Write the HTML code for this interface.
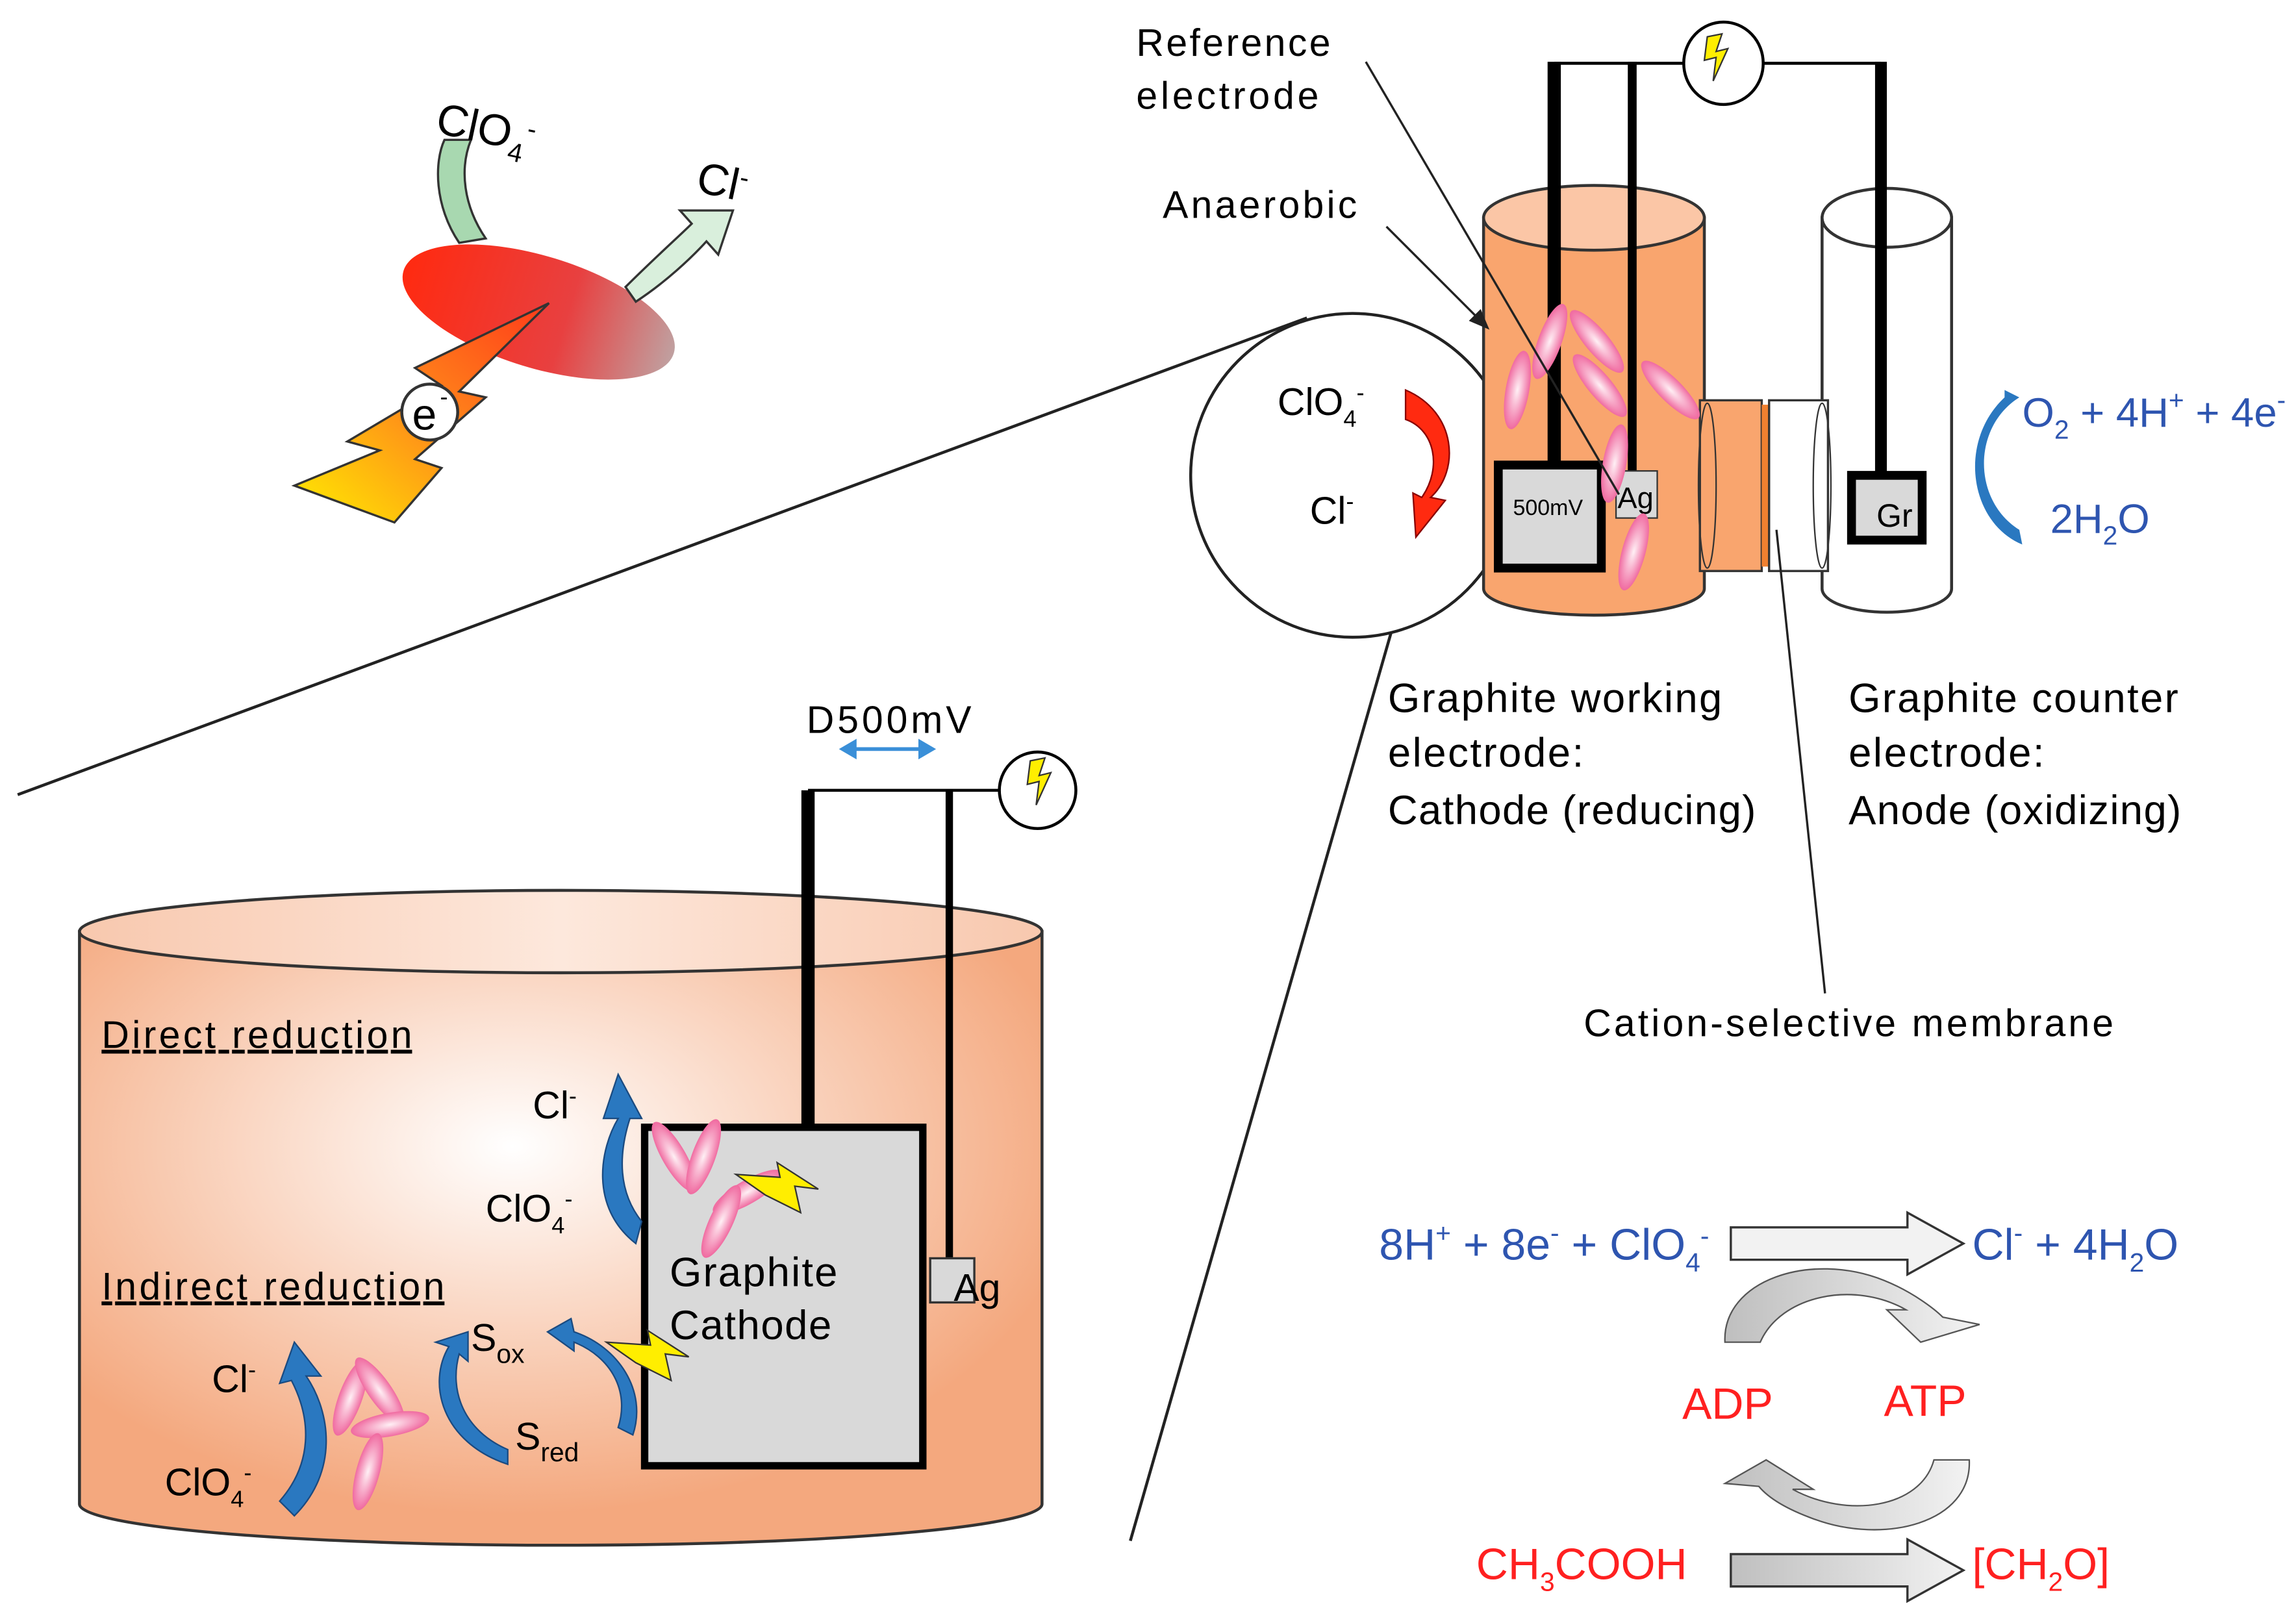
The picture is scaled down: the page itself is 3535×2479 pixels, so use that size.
<!DOCTYPE html>
<html><head><meta charset="utf-8"><style>
html,body{margin:0;padding:0;background:#fff}
svg{display:block}
text{font-family:"Liberation Sans","DejaVu Sans",sans-serif}
</style></head><body>
<svg width="3535" height="2479" viewBox="0 0 1560 1094" preserveAspectRatio="none" xmlns="http://www.w3.org/2000/svg">
<defs>
<radialGradient id="tank" cx="0.45" cy="0.35" r="0.6">
<stop offset="0" stop-color="#ffffff"/><stop offset="1" stop-color="#f4a87e"/></radialGradient>
<linearGradient id="tanktop" x1="0" x2="1"><stop offset="0" stop-color="#f8c8ae"/><stop offset="0.5" stop-color="#fde8dc"/><stop offset="1" stop-color="#f8c8ae"/></linearGradient>
<linearGradient id="bolt" x1="0" y1="1" x2="1" y2="0"><stop offset="0" stop-color="#ffee00"/><stop offset="0.5" stop-color="#ff8a1a"/><stop offset="1" stop-color="#ff3a1a"/></linearGradient>
<linearGradient id="blob" x1="0" x2="1"><stop offset="0" stop-color="#ff2a10"/><stop offset="0.6" stop-color="#e84040"/><stop offset="1" stop-color="#c0a0a0"/></linearGradient>
<radialGradient id="pink"><stop offset="0" stop-color="#fff0f5"/><stop offset="1" stop-color="#f06aa0"/></radialGradient>
<linearGradient id="grey" x1="0" x2="1"><stop offset="0" stop-color="#bfbfbf"/><stop offset="1" stop-color="#f2f2f2"/></linearGradient>
<g id="b"><ellipse rx="8" ry="27" fill="url(#pink)"/></g>
<g id="ly"><polygon points="0,0 10,-2 6,10 14,8 4,30 6,14 -2,16" fill="#ffee00" stroke="#333" stroke-width="1"/></g>
</defs>

<path d="M312,165 C295,140 295,110 302,95 L320,95 C312,115 315,140 330,162 Z" fill="#a8d8b0" stroke="#333" stroke-width="1.5"/>
<ellipse cx="366" cy="212" rx="96" ry="38" transform="rotate(17 366 212)" fill="url(#blob)"/>
<path d="M425,195 C445,175 462,160 470,152 L462,143 L498,143 L488,173 L480,164 C470,175 452,192 432,205 Z" fill="#d9efdc" stroke="#333" stroke-width="1.5"/>
<polygon points="373,206 282,250 300,262 236,300 258,306 200,330 268,355 300,318 282,312 330,270 312,266" fill="url(#bolt)" stroke="#333" stroke-width="1.5"/>
<circle cx="292" cy="280" r="19" fill="#fff" stroke="#333" stroke-width="2"/>
<text x="280" y="292" font-size="30">e</text><text x="299" y="275" font-size="16">-</text>
<text x="295" y="90" font-size="30" transform="rotate(12 295 90)">ClO<tspan font-size="18" dy="8">4</tspan><tspan font-size="18" dy="-18">-</tspan></text>
<text x="472" y="130" font-size="30" transform="rotate(12 472 130)">Cl<tspan font-size="18" dy="-10">-</tspan></text>

<line x1="12" y1="540" x2="888" y2="216" stroke="#222" stroke-width="2"/>
<line x1="768" y1="1047" x2="948" y2="420" stroke="#222" stroke-width="2"/>

<path d="M54,633 L54,1022 A327,28 0 0 0 708,1022 L708,633 Z" fill="url(#tank)" stroke="#333" stroke-width="2"/>
<ellipse cx="381" cy="633" rx="327" ry="28" fill="url(#tanktop)" stroke="#333" stroke-width="2"/>
<line x1="549" y1="537" x2="549" y2="766" stroke="#000" stroke-width="9"/>
<line x1="645" y1="537" x2="645" y2="855" stroke="#000" stroke-width="5"/>
<line x1="549" y1="537" x2="680" y2="537" stroke="#000" stroke-width="2"/>
<circle cx="705" cy="537" r="26" fill="#fff" stroke="#000" stroke-width="2"/>
<use href="#ly" x="700" y="517"/>
<text x="548" y="498" font-size="26" textLength="112">D500mV</text>
<path d="M574,509 L632,509" stroke="#3a8fd8" stroke-width="2.5"/>
<polygon points="570,509 582,502 582,516" fill="#3a8fd8"/><polygon points="636,509 624,502 624,516" fill="#3a8fd8"/>
<rect x="438" y="766" width="189" height="230" fill="#d9d9d9" stroke="#000" stroke-width="5"/>
<rect x="632" y="855" width="30" height="30" fill="#d9d9d9" stroke="#333" stroke-width="1.5"/>
<text x="648" y="884" font-size="26">Ag</text>
<text x="455" y="874" font-size="28" textLength="114">Graphite</text>
<text x="455" y="910" font-size="28" textLength="110">Cathode</text>
<text x="69" y="712" font-size="26" text-decoration="underline" textLength="211">Direct reduction</text>
<text x="69" y="883" font-size="26" text-decoration="underline" textLength="233">Indirect reduction</text>
<g fill="#2a78c0" stroke="#1a4a80" stroke-width="1">
<path d="M432,845 C400,820 408,780 420,760 L410,760 L420,730 L436,760 L428,760 C420,785 420,810 436,830 Z"/>
<path d="M200,1030 C230,1000 225,960 208,935 L218,935 L200,912 L190,940 L198,938 C212,965 212,995 190,1020 Z"/>
<path d="M345,995 C300,980 290,940 305,915 L296,912 L318,905 L318,925 L312,920 C305,945 315,972 345,985 Z"/>
<path d="M430,975 C440,945 420,915 390,905 L388,896 L372,905 L390,918 L390,912 C415,922 428,945 420,970 Z"/>
</g>
<text x="362" y="760" font-size="26">Cl<tspan font-size="16" dy="-10">-</tspan></text>
<text x="330" y="830" font-size="26">ClO<tspan font-size="16" dy="8">4</tspan><tspan font-size="16" dy="-18">-</tspan></text>
<text x="144" y="946" font-size="26">Cl<tspan font-size="16" dy="-10">-</tspan></text>
<text x="112" y="1016" font-size="26">ClO<tspan font-size="16" dy="8">4</tspan><tspan font-size="16" dy="-18">-</tspan></text>
<text x="320" y="918" font-size="26">S<tspan font-size="18" dy="8">ox</tspan></text>
<text x="350" y="985" font-size="26">S<tspan font-size="18" dy="8">red</tspan></text>
<use href="#b" transform="translate(458,786) rotate(-30)"/><use href="#b" transform="translate(478,786) rotate(20)"/>
<use href="#b" transform="translate(508,810) rotate(60)"/><use href="#b" transform="translate(490,830) rotate(25)"/>
<use href="#b" transform="translate(238,950) rotate(20)"/><use href="#b" transform="translate(258,945) rotate(-35)"/>
<use href="#b" transform="translate(265,968) rotate(80)"/><use href="#b" transform="translate(250,1000) rotate(15)"/>
<polygon points="500,798 530,800 528,790 556,808 540,806 544,824 520,812" fill="#ffee00" stroke="#333"/>
<polygon points="412,912 442,914 440,904 468,922 452,920 456,938 432,926" fill="#ffee00" stroke="#333"/>

<circle cx="919" cy="323" r="110" fill="#fff" stroke="#222" stroke-width="2"/>
<text x="868" y="282" font-size="26">ClO<tspan font-size="16" dy="8">4</tspan><tspan font-size="16" dy="-18">-</tspan></text>
<text x="890" y="356" font-size="26">Cl<tspan font-size="16" dy="-10">-</tspan></text>
<path d="M955,265 C990,280 992,320 972,338 L982,340 L962,365 L960,335 L966,338 C980,318 975,292 955,285 Z" fill="#ff2a10" stroke="#800" stroke-width="1"/>

<path d="M1008,148 L1008,400 A75,18 0 0 0 1158,400 L1158,148 Z" fill="#f9a56e" stroke="#333" stroke-width="2"/>
<ellipse cx="1083" cy="148" rx="75" ry="22" fill="#fbc6a6" stroke="#333" stroke-width="2"/>
<path d="M1238,148 L1238,400 A44,16 0 0 0 1326,400 L1326,148 Z" fill="#fff" stroke="#333" stroke-width="2"/>
<ellipse cx="1282" cy="148" rx="44" ry="20" fill="#fff" stroke="#333" stroke-width="2"/>
<rect x="1155" y="272" width="42" height="116" fill="#f9a56e" stroke="#333" stroke-width="1.5"/>
<rect x="1197" y="275" width="5" height="110" fill="#f08030"/>
<ellipse cx="1160" cy="330" rx="6" ry="56" fill="none" stroke="#333" stroke-width="1"/>
<rect x="1202" y="272" width="40" height="116" fill="#fff" stroke="#333" stroke-width="1.5"/>
<ellipse cx="1238" cy="330" rx="6" ry="56" fill="none" stroke="#333" stroke-width="1"/>
<line x1="1056" y1="42" x2="1056" y2="316" stroke="#000" stroke-width="9"/>
<line x1="1109" y1="42" x2="1109" y2="322" stroke="#000" stroke-width="6"/>
<line x1="1278" y1="42" x2="1278" y2="322" stroke="#000" stroke-width="8"/>
<line x1="1056" y1="43" x2="1145" y2="43" stroke="#000" stroke-width="2"/>
<line x1="1198" y1="43" x2="1278" y2="43" stroke="#000" stroke-width="2"/>
<ellipse cx="1171" cy="43" rx="27" ry="28" fill="#fff" stroke="#000" stroke-width="2"/>
<use href="#ly" x="1160" y="25"/>
<rect x="1018" y="316" width="70" height="70" fill="#d9d9d9" stroke="#000" stroke-width="6"/>
<text x="1028" y="350" font-size="15">500mV</text>
<rect x="1098" y="320" width="28" height="32" fill="#d9d9d9" stroke="#333" stroke-width="1"/>
<text x="1099" y="345" font-size="20">Ag</text>
<rect x="1258" y="323" width="48" height="44" fill="#d9d9d9" stroke="#000" stroke-width="6"/>
<text x="1275" y="358" font-size="22">Gr</text>
<use href="#b" transform="translate(1053,232) rotate(20)"/><use href="#b" transform="translate(1085,232) rotate(-40)"/>
<use href="#b" transform="translate(1087,262) rotate(-40)"/><use href="#b" transform="translate(1135,265) rotate(-45)"/>
<use href="#b" transform="translate(1031,265) rotate(10)"/><use href="#b" transform="translate(1097,315) rotate(10)"/>
<use href="#b" transform="translate(1110,375) rotate(15)"/>
<line x1="928" y1="42" x2="1100" y2="336" stroke="#222" stroke-width="1.5"/>
<line x1="942" y1="154" x2="1010" y2="222" stroke="#222" stroke-width="1.5"/>
<polygon points="1012,224 998,218 1006,210" fill="#222"/>
<line x1="1207" y1="360" x2="1240" y2="675" stroke="#222" stroke-width="1.5"/>
<text x="772" y="38" font-size="26" textLength="132">Reference</text>
<text x="772" y="74" font-size="26" textLength="124">electrode</text>
<text x="790" y="148" font-size="26" textLength="132">Anaerobic</text>
<path d="M1372,270 C1340,290 1340,340 1372,360 L1374,370 C1338,355 1330,300 1362,270 L1362,265 L1372,270 Z" fill="#2a78c0"/>
<text x="1374" y="290" font-size="28" fill="#2e55b0">O<tspan font-size="18" dy="8">2</tspan><tspan dy="-8"> + 4H</tspan><tspan font-size="18" dy="-12">+</tspan><tspan dy="12"> + 4e</tspan><tspan font-size="18" dy="-12">-</tspan></text>
<text x="1393" y="362" font-size="28" fill="#2e55b0">2H<tspan font-size="18" dy="8">2</tspan><tspan dy="-8">O</tspan></text>
<text x="943" y="484" font-size="28" textLength="227">Graphite working</text>
<text x="943" y="521" font-size="28" textLength="133">electrode:</text>
<text x="943" y="560" font-size="28" textLength="250">Cathode (reducing)</text>
<text x="1256" y="484" font-size="28" textLength="224">Graphite counter</text>
<text x="1256" y="521" font-size="28" textLength="133">electrode:</text>
<text x="1256" y="560" font-size="28" textLength="226">Anode (oxidizing)</text>
<text x="1076" y="704" font-size="26" textLength="360">Cation-selective membrane</text>

<text x="937" y="856" font-size="30" fill="#2e55b0">8H<tspan font-size="18" dy="-12">+</tspan><tspan dy="12"> + 8e</tspan><tspan font-size="18" dy="-12">-</tspan><tspan dy="12"> + ClO</tspan><tspan font-size="18" dy="8">4</tspan><tspan font-size="18" dy="-18">-</tspan></text>
<text x="1340" y="856" font-size="30" fill="#2e55b0">Cl<tspan font-size="18" dy="-12">-</tspan><tspan dy="12"> + 4H</tspan><tspan font-size="18" dy="8">2</tspan><tspan dy="-8">O</tspan></text>
<polygon points="1176,834 1296,834 1296,824 1334,845 1296,866 1296,856 1176,856" fill="#f2f2f2" stroke="#333" stroke-width="1.5"/>
<polygon points="1176,1056 1296,1056 1296,1046 1334,1067 1296,1088 1296,1078 1176,1078" fill="url(#grey)" stroke="#333" stroke-width="1.5"/>
<path d="M1172,912 C1170,870 1230,850 1280,870 C1300,878 1315,890 1320,895 L1345,900 L1305,912 L1282,890 L1295,890 C1260,870 1210,880 1196,912 Z" fill="url(#grey)" stroke="#555" stroke-width="1"/>
<path d="M1338,992 C1340,1035 1280,1050 1232,1032 C1210,1024 1200,1016 1195,1010 L1172,1008 L1200,992 L1232,1012 L1218,1012 C1255,1032 1305,1025 1314,992 Z" fill="url(#grey)" stroke="#555" stroke-width="1"/>
<text x="1143" y="964" font-size="30" fill="#ff2020">ADP</text>
<text x="1280" y="962" font-size="30" fill="#ff2020">ATP</text>
<text x="1003" y="1073" font-size="30" fill="#ff2020">CH<tspan font-size="18" dy="8">3</tspan><tspan dy="-8">COOH</tspan></text>
<text x="1340" y="1073" font-size="30" fill="#ff2020">[CH<tspan font-size="18" dy="8">2</tspan><tspan dy="-8">O]</tspan></text>
</svg>
</body></html>
